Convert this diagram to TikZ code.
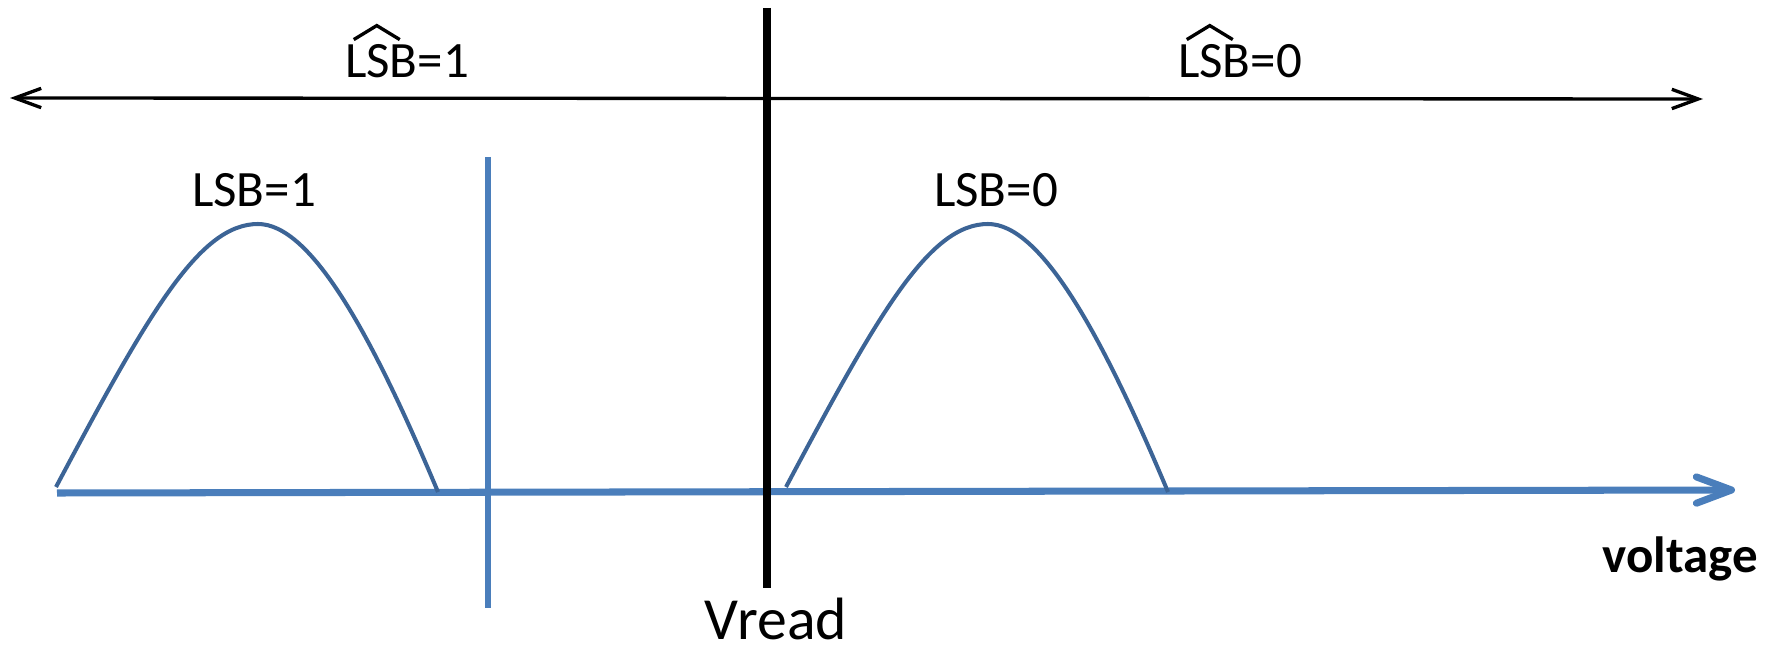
\documentclass[tikz,border=0pt]{standalone}
\usepackage{fontspec}
\setmainfont{Carlito}
\usetikzlibrary{arrows.meta}
\definecolor{axisblue}{RGB}{74,126,187}
\definecolor{curveblue}{RGB}{60,100,150}

\begin{document}
\begin{tikzpicture}[x=0.02cm, y=-0.02cm,
  lbl/.style={anchor=base, inner sep=0pt, font=\fontsize{29}{32}\selectfont},
  hatline/.style={line width=1.9pt, line join=miter},
  axis/.style={draw=axisblue, line width=4pt},
  hump/.style={draw=curveblue, line width=2.3pt}]
  \useasboundingbox (0,0) rectangle (1781,648);
  \coordinate (topL) at (10,98);
  \coordinate (topR) at (1703,99);
  \draw[line width=1.9pt, {Straight Barb[length=15pt,width=11pt]}-{Straight Barb[length=15pt,width=11pt]}] (topL) -- (topR);
  \foreach \nm/\hx/\bit in {hat1/407/1, hat0/1240/0} {
    \node[lbl] (\nm) at (\hx,78) {LSB=\bit};
    \draw[hatline] ([shift={(9,-5)}]\nm.north west) -- ([shift={(32,-19)}]\nm.north west)
      -- ([shift={(55,-5)}]\nm.north west);
  }

  \coordinate (ax0) at (57,493);
  \coordinate (ax1) at (1735,490);
  \draw[axis, -{Straight Barb[round,length=20pt,width=15pt]}] (ax0) -- (ax1);
  \node[lbl, font=\bfseries\fontsize{29}{32}\selectfont] (volt) at (1680,572) {voltage};

  \coordinate (midT) at (488,157);
  \coordinate (midB) at (488,608);
  \draw[axis, line width=3.4pt] (midT) -- (midB);

  \foreach \dx/\lx/\bit in {0/254/1, 730/996/0} {
    \draw[hump] (56+\dx,487) .. controls (150+\dx,310) and (200+\dx,224) .. (258+\dx,224)
      .. controls (310+\dx,224) and (370+\dx,330) .. (438+\dx,492);
    \node[lbl] (lsb\bit) at (\lx,207) {LSB=\bit};
  }

  \coordinate (vT) at (767,8);
  \coordinate (vB) at (767,588);
  \draw[line width=4pt] (vT) -- (vB);
  \node[lbl, font=\fontsize{34}{40}\selectfont] (vread) at (776,639) {Vread};
\end{tikzpicture}
\end{document}
